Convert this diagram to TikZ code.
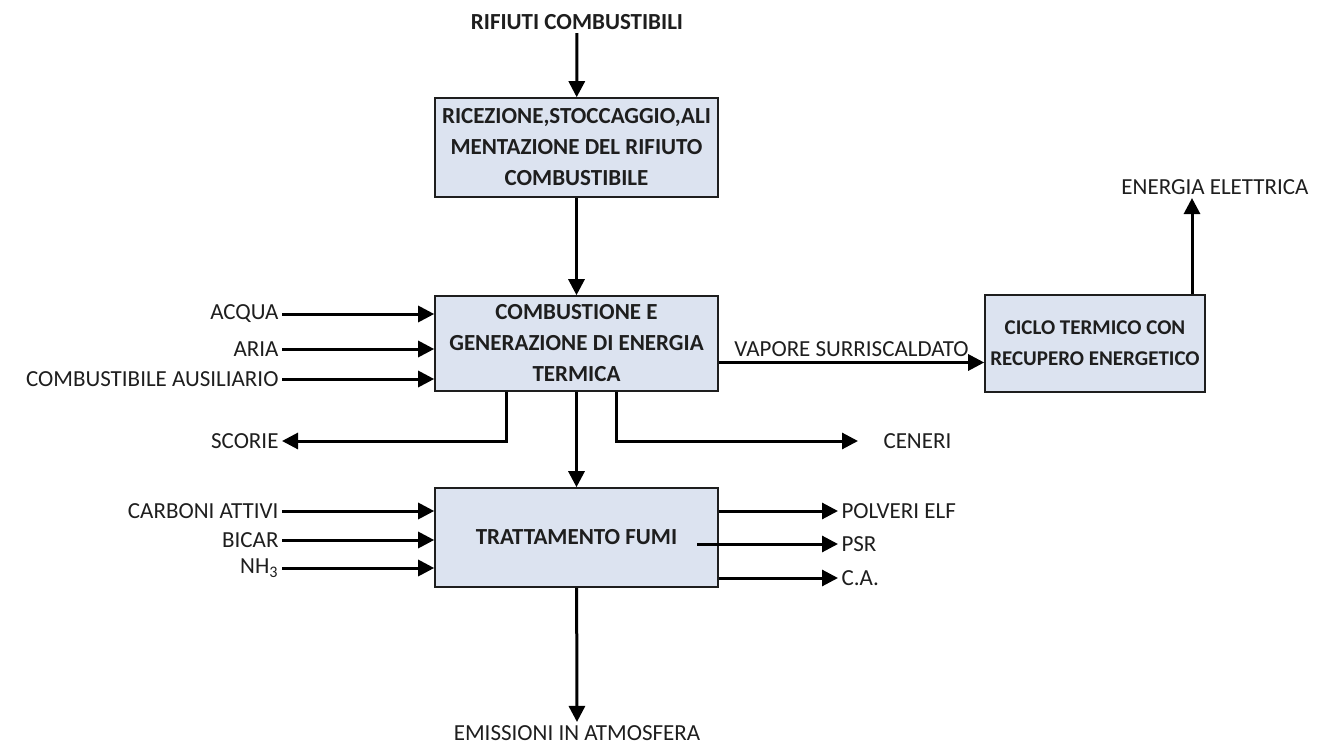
\documentclass[tikz,border=0pt]{standalone}
\usepackage{fontspec}
\setmainfont{Carlito}
\usepackage{xcolor}
\usetikzlibrary{arrows.meta}
\definecolor{boxfill}{HTML}{DCE3F0}
\definecolor{ink}{HTML}{1E1E1E}

\begin{document}
\begin{tikzpicture}[x=0.5pt, y=-0.5pt, font=\fontsize{11.5}{15.5}\selectfont, line width=1.5pt, -{Triangle[length=8pt,width=8pt]},
	blk/.style={draw=ink, line width=0.8pt, fill=boxfill, align=center, text=ink, font=\fontsize{11.5}{15.5}\selectfont\bfseries, minimum width=141.5pt, minimum height=49.5pt, inner sep=0pt},
	lbl/.style={text=ink, inner sep=1pt}]
	\useasboundingbox (0,0) rectangle (1324,744);
	% blocchi
	\node[blk] (ricezione) at (576.5,147.5) {RICEZIONE,STOCCAGGIO,ALI\\MENTAZIONE DEL RIFIUTO\\COMBUSTIBILE};
	\node[blk, minimum height=47.5pt] (combustione) at (576.5,343.5) {COMBUSTIONE E\\GENERAZIONE DI ENERGIA\\TERMICA};
	\node[blk] (fumi) at (576.5,537.5) {TRATTAMENTO FUMI};
	\node[blk, minimum width=110pt, minimum height=48.5pt, font=\fontsize{10.5}{15.5}\selectfont\bfseries] (ciclo) at (1095,343.5) {CICLO TERMICO CON\\RECUPERO ENERGETICO};
	% etichette
	\node[lbl, font=\fontsize{11.5}{14}\selectfont\bfseries] (rifiuti) at (577,22) {RIFIUTI COMBUSTIBILI};
	\node[lbl, anchor=east] (acqua) at (282,314) {ACQUA};
	\node[lbl, anchor=east] (aria) at (282,349) {ARIA};
	\node[lbl, anchor=east] (ausiliario) at (282,379) {COMBUSTIBILE AUSILIARIO};
	\node[lbl, anchor=east] (scorie) at (282,441) {SCORIE};
	\node[lbl, anchor=west] (ceneri) at (880,441) {CENERI};
	\node[lbl] (energia) at (1215,187) {ENERGIA ELETTRICA};
	\node[lbl, anchor=east] (carboni) at (282,511) {CARBONI ATTIVI};
	\node[lbl, anchor=east] (bicar) at (282,540) {BICAR};
	\node[lbl, anchor=east] (nh) at (282,568) {NH\textsubscript{3}};
	\node[lbl, anchor=west] (polveri) at (838,511) {POLVERI ELF};
	\node[lbl, anchor=west] (psr) at (838,544) {PSR};
	\node[lbl, anchor=west] (ca) at (838,578) {C.A.};
	\node[lbl] (emissioni) at (577,733) {EMISSIONI IN ATMOSFERA};
	\coordinate (psrin) at (697,544);
	% connessioni
	\draw (rifiuti) -- (ricezione);
	\draw (ricezione) -- (combustione);
	\draw (combustione) -- (fumi);
	\draw (fumi) -- (emissioni);
	\draw (acqua) -- (acqua -| combustione.west);
	\draw (aria) -- (aria -| combustione.west);
	\draw (ausiliario) -- (ausiliario -| combustione.west);
	\draw (carboni) -- (carboni -| fumi.west);
	\draw (bicar) -- (bicar -| fumi.west);
	\draw (nh) -- (nh -| fumi.west);
	\draw ([xshift=-35pt]combustione.south) |- (scorie.east);
	\draw ([xshift=20pt]combustione.south) |- ([xshift=-11pt]ceneri.west);
	\draw ([yshift=-9.5pt]combustione.east) -- ([yshift=-9.5pt]ciclo.west) node[lbl, midway, above=1pt] (vapore) {VAPORE SURRISCALDATO};
	\draw ([xshift=48.5pt]ciclo.north) -- ([xshift=48.5pt]ciclo.north |- energia.south);
	\draw (fumi.east |- polveri) -- (polveri.west);
	\draw (psrin) -- (psr.west);
	\draw (fumi.east |- ca) -- (ca.west);
\end{tikzpicture}
\end{document}
